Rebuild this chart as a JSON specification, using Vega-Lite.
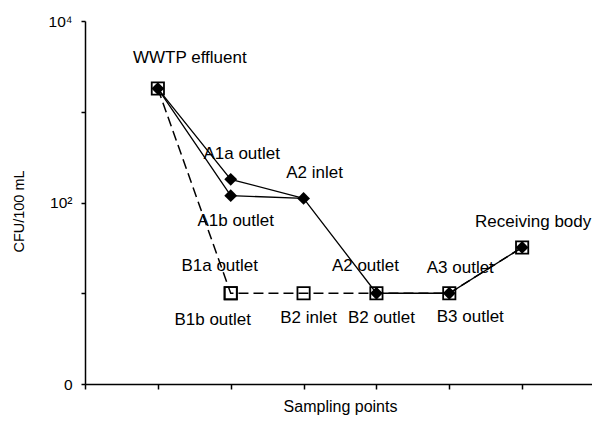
{
  "$schema": "https://vega.github.io/schema/vega-lite/v6.json",
  "width": 510,
  "height": 363,
  "autosize": {"type": "none"},
  "padding": {"left": 85, "top": 21, "right": 0, "bottom": 39},
  "background": "white",
  "config": {
    "view": {"stroke": null},
    "font": "Liberation Sans",
    "axis": {
      "grid": false,
      "domainColor": "black",
      "domainWidth": 1.5,
      "tickColor": "black",
      "tickWidth": 1.5,
      "labelColor": "black",
      "titleColor": "black",
      "titleFontWeight": "normal",
      "labelFont": "Liberation Sans",
      "titleFont": "Liberation Sans"
    },
    "axisX": {"titleFontSize": 16, "titlePadding": 9},
    "axisY": {"labelFontSize": 15.5, "titleFontSize": 14.5}
  },
  "datasets": {
    "lines": [
      {"path": "B", "step": 1, "cfu": 1800},
      {"path": "B", "step": 2, "cfu": 10},
      {"path": "B", "step": 3, "cfu": 10},
      {"path": "B", "step": 4, "cfu": 10},
      {"path": "B", "step": 5, "cfu": 10},
      {"path": "B", "step": 6, "cfu": 32},
      {"path": "A1a", "step": 1, "cfu": 1800},
      {"path": "A1a", "step": 2, "cfu": 180},
      {"path": "A1a", "step": 3, "cfu": 111},
      {"path": "A1b", "step": 1, "cfu": 1800},
      {"path": "A1b", "step": 2, "cfu": 119},
      {"path": "A1b", "step": 3, "cfu": 111},
      {"path": "A", "step": 3, "cfu": 111},
      {"path": "A", "step": 4, "cfu": 10},
      {"path": "A", "step": 5, "cfu": 10},
      {"path": "A", "step": 6, "cfu": 32}
    ],
    "sites": [
      {"series": "A", "site": "WWTP effluent", "step": 1, "cfu": 1800, "place": "above-right"},
      {"series": "A", "site": "A1a outlet", "step": 2, "cfu": 180, "place": "above"},
      {"series": "A", "site": "A1b outlet", "step": 2, "cfu": 119, "place": "below"},
      {"series": "A", "site": "A2 inlet", "step": 3, "cfu": 111, "place": "above"},
      {"series": "A", "site": "A2 outlet", "step": 4, "cfu": 10, "place": "above-left"},
      {"series": "A", "site": "A3 outlet", "step": 5, "cfu": 10, "place": "above"},
      {"series": "A", "site": "Receiving body", "step": 6, "cfu": 32, "place": "above"},
      {"series": "B", "site": "WWTP effluent", "step": 1, "cfu": 1800, "place": "none"},
      {"series": "B", "site": "B1a outlet", "step": 2, "cfu": 10, "place": "above-left"},
      {"series": "B", "site": "B1b outlet", "step": 2, "cfu": 10, "place": "below-left"},
      {"series": "B", "site": "B2 inlet", "step": 3, "cfu": 10, "place": "below"},
      {"series": "B", "site": "B2 outlet", "step": 4, "cfu": 10, "place": "below"},
      {"series": "B", "site": "B3 outlet", "step": 5, "cfu": 10, "place": "below-right"},
      {"series": "B", "site": "Receiving body", "step": 6, "cfu": 32, "place": "none"}
    ]
  },
  "encoding": {
    "x": {
      "field": "step",
      "type": "quantitative",
      "scale": {"domain": [0, 7], "nice": false, "zero": false},
      "axis": {
        "values": [0, 1, 2, 3, 4, 5, 6, 7],
        "labels": false,
        "tickSize": 5,
        "title": "Sampling points"
      }
    },
    "y": {
      "field": "cfu",
      "type": "quantitative",
      "scale": {"type": "log", "domain": [1, 10000], "nice": false},
      "axis": {
        "values": [1, 10, 100, 1000, 10000],
        "labelExpr": "datum.value == 10000 ? '10⁴' : datum.value == 100 ? '10²' : datum.value == 1 ? '0' : ''",
        "labelOverlap": false,
        "tickSize": 4,
        "labelPadding": 9,
        "title": "CFU/100 mL",
        "titleBaseline": "middle",
        "titleX": -66,
        "titleY": 190
      }
    }
  },
  "layer": [
    {
      "data": {"name": "lines"},
      "transform": [{"filter": "datum.path == 'B'"}],
      "mark": {"type": "line", "color": "black", "strokeWidth": 1.5, "strokeDash": [10, 5]},
      "encoding": {"detail": {"field": "path"}}
    },
    {
      "data": {"name": "lines"},
      "transform": [{"filter": "datum.path != 'B'"}],
      "mark": {"type": "line", "color": "black", "strokeWidth": 1.3},
      "encoding": {"detail": {"field": "path"}}
    },
    {
      "data": {"name": "sites"},
      "transform": [{"filter": "datum.series == 'B'"}],
      "mark": {"type": "point", "shape": "square", "filled": false, "size": 150, "strokeWidth": 1.8, "color": "black", "opacity": 1}
    },
    {
      "data": {"name": "sites"},
      "transform": [{"filter": "datum.series == 'A'"}],
      "mark": {"type": "point", "shape": "diamond", "filled": true, "size": 165, "color": "black", "opacity": 1}
    },
    {
      "data": {"name": "sites"},
      "transform": [{"filter": "datum.place == 'above'"}],
      "mark": {"type": "text", "fontSize": 17, "color": "black", "dx": 11, "dy": -25},
      "encoding": {"text": {"field": "site"}}
    },
    {
      "data": {"name": "sites"},
      "transform": [{"filter": "datum.place == 'above-left'"}],
      "mark": {"type": "text", "fontSize": 17, "color": "black", "dx": -11, "dy": -27},
      "encoding": {"text": {"field": "site"}}
    },
    {
      "data": {"name": "sites"},
      "transform": [{"filter": "datum.place == 'above-right'"}],
      "mark": {"type": "text", "fontSize": 17, "color": "black", "dx": 32, "dy": -31},
      "encoding": {"text": {"field": "site"}}
    },
    {
      "data": {"name": "sites"},
      "transform": [{"filter": "datum.place == 'below'"}],
      "mark": {"type": "text", "fontSize": 17, "color": "black", "dx": 5, "dy": 25},
      "encoding": {"text": {"field": "site"}}
    },
    {
      "data": {"name": "sites"},
      "transform": [{"filter": "datum.place == 'below-left'"}],
      "mark": {"type": "text", "fontSize": 17, "color": "black", "dx": -18, "dy": 27},
      "encoding": {"text": {"field": "site"}}
    },
    {
      "data": {"name": "sites"},
      "transform": [{"filter": "datum.place == 'below-right'"}],
      "mark": {"type": "text", "fontSize": 17, "color": "black", "dx": 21, "dy": 24},
      "encoding": {"text": {"field": "site"}}
    }
  ]
}
